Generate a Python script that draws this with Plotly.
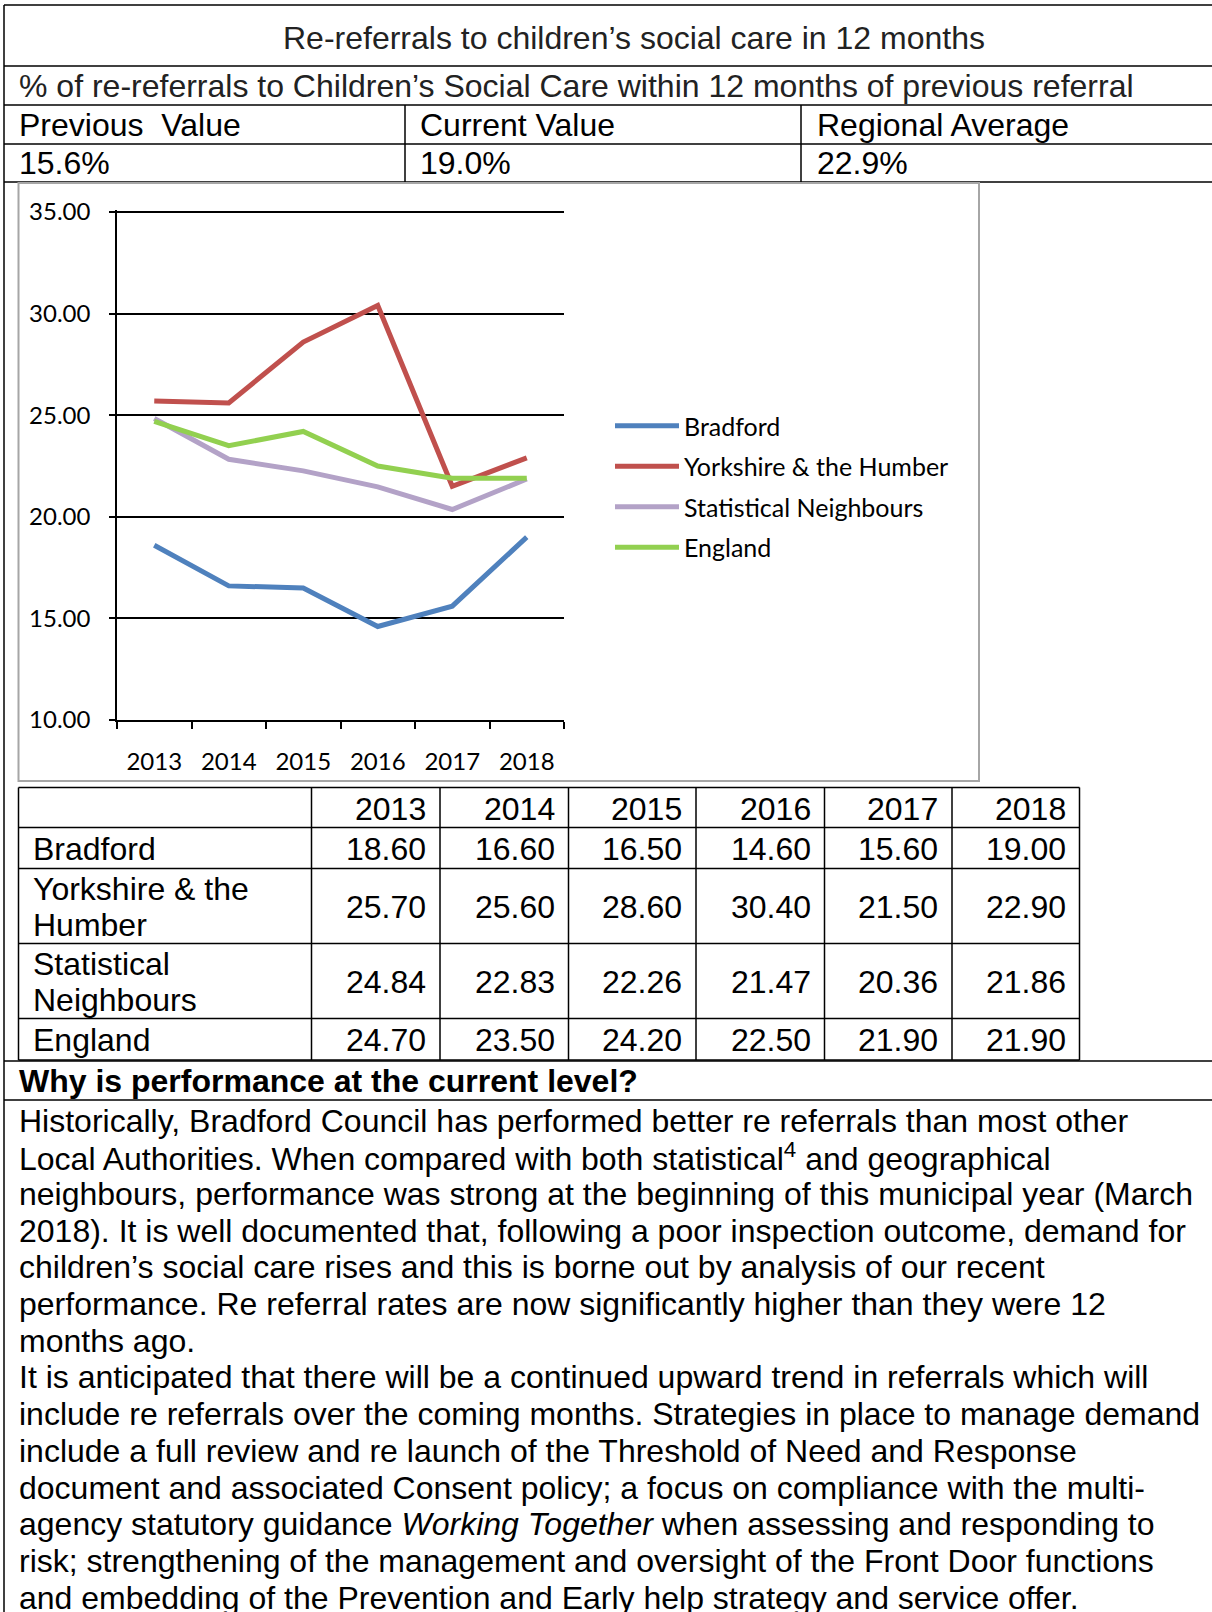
import plotly.graph_objects as go

W, H = 1212, 1612

# ---------------- data ----------------
years = ["2013", "2014", "2015", "2016", "2017", "2018"]
series_names = ["Bradford", "Yorkshire & the Humber", "Statistical Neighbours", "England"]
bradford = [18.60, 16.60, 16.50, 14.60, 15.60, 19.00]
yorkshire = [25.70, 25.60, 28.60, 30.40, 21.50, 22.90]
stat_neighbours = [24.84, 22.83, 22.26, 21.47, 20.36, 21.86]
england = [24.70, 23.50, 24.20, 22.50, 21.90, 21.90]
series_colors = ["#4F81BD", "#C0504D", "#B3A2C7", "#92D050"]
table_row_labels = [["Bradford"], ["Yorkshire & the", "Humber"], ["Statistical", "Neighbours"], ["England"]]
y_ticks = [10, 15, 20, 25, 30, 35]

title_text = "Re-referrals to children’s social care in 12 months"
subtitle_text = "% of re-referrals to Children’s Social Care within 12 months of previous referral"
kpi_labels = ["Previous  Value", "Current Value", "Regional Average"]
kpi_values = ["15.6%", "19.0%", "22.9%"]
heading_text = "Why is performance at the current level?"
body_lines = [
    "Historically, Bradford Council has performed better re referrals than most other",
    "Local Authorities. When compared with both statistical<sup>4</sup> and geographical",
    "neighbours, performance was strong at the beginning of this municipal year (March",
    "2018). It is well documented that, following a poor inspection outcome, demand for",
    "children’s social care rises and this is borne out by analysis of our recent",
    "performance. Re referral rates are now significantly higher than they were 12",
    "months ago.",
    "It is anticipated that there will be a continued upward trend in referrals which will",
    "include re referrals over the coming months. Strategies in place to manage demand",
    "include a full review and re launch of the Threshold of Need and Response",
    "document and associated Consent policy; a focus on compliance with the multi-",
    "agency statutory guidance <i>Working Together</i> when assessing and responding to",
    "risk; strengthening of the management and oversight of the Front Door functions",
    "and embedding of the Prevention and Early help strategy and service offer.",
]
series_values = [bradford, yorkshire, stat_neighbours, england]

# ---------------- helpers ----------------
def px(x):
    return x / W

def py(y):
    return 1 - y / H

DOC_FONT = "Liberation Sans, Arial, sans-serif"
CHART_FONT = "Lato, Carlito, Calibri, sans-serif"
FS = 32

shapes = []
annotations = []

def hline(y, x0, x1, color="black", width=1.5):
    shapes.append(dict(type="line", xref="paper", yref="paper", x0=px(x0), x1=px(x1),
                       y0=py(y), y1=py(y), line=dict(color=color, width=width)))

def vline(x, y0, y1, color="black", width=1.5):
    shapes.append(dict(type="line", xref="paper", yref="paper", x0=px(x), x1=px(x),
                       y0=py(y0), y1=py(y1), line=dict(color=color, width=width)))

def text(x, y, s, anchor="left", size=FS, color="#1a1a1a", family=DOC_FONT):
    annotations.append(dict(xref="paper", yref="paper", x=px(x), y=py(y), text=s,
                            showarrow=False, xanchor=anchor, yanchor="middle",
                            font=dict(family=family, size=size, color=color)))

# ---------------- header table ----------------
hline(5, 4, W)
hline(66, 4, W)
hline(105, 4, W)
hline(144, 4, W)
hline(182, 4, W)
vline(4, 5, H)
vline(405, 105, 182)
vline(801, 105, 182)
text(634, 38, title_text, anchor="center", color="#222222")
text(17, 86, subtitle_text, color="#222222")
kpi_x = [17, 418, 815]
for xx, lab, val in zip(kpi_x, kpi_labels, kpi_values):
    text(xx, 125, lab, color="#000000")
    text(xx, 163, val, color="#000000")

# chart frame
shapes.append(dict(type="rect", xref="paper", yref="paper", x0=px(18.5), x1=px(979),
                   y0=py(781), y1=py(183), line=dict(color="#A6A6A6", width=2)))

# ---------------- data table ----------------
col_edges = [18.5, 311.5, 440, 568.5, 696, 824.5, 952, 1079.5]
row_edges = [787.5, 827.5, 868.5, 943.5, 1018.5, 1060]
for xe in col_edges:
    vline(xe, row_edges[0], row_edges[-1])
for ye in row_edges:
    hline(ye, col_edges[0], col_edges[-1])
for j, yr in enumerate(years):
    text(col_edges[j + 2] - 12, (row_edges[0] + row_edges[1]) / 2 + 1, yr, anchor="right", color="#000000")
for i, (labs, vals) in enumerate(zip(table_row_labels, series_values)):
    top, bot = row_edges[i + 1], row_edges[i + 2]
    mid = (top + bot) / 2 + 1
    n = len(labs)
    for k, lab in enumerate(labs):
        text(31, mid + (k - (n - 1) / 2) * 36, lab, color="#000000")
    for j, v in enumerate(vals):
        text(col_edges[j + 2] - 12, mid, f"{v:.2f}", anchor="right", color="#000000")

# ---------------- commentary ----------------
hline(1061, 4, W)
hline(1100, 4, W)
text(17, 1081, "<b>" + heading_text + "</b>", color="#000000")
for k, line in enumerate(body_lines):
    text(17, 1120.5 + k * 36.7, line, color="#000000")

# ---------------- chart ----------------
Y0_PX, Y35_PX = 720, 212
px_per_unit = (Y0_PX - Y35_PX) / 25.0
y_top_val = 35.1
y_dom_top = Y35_PX - (y_top_val - 35) * px_per_unit

fig = go.Figure()
for name, vals, col in zip(series_names, series_values, series_colors):
    fig.add_trace(go.Scatter(x=years, y=vals, name=name, mode="lines", legendgroup=name,
                             line=dict(color=col, width=5)))

fig.update_layout(
    width=W, height=H, autosize=False,
    margin=dict(l=0, r=0, t=0, b=0, pad=0, autoexpand=False),
    paper_bgcolor="white", plot_bgcolor="white",
    shapes=shapes, annotations=annotations,
    showlegend=True,
    legend=dict(x=px(610), y=py(403), xanchor="left", yanchor="top",
                bgcolor="rgba(0,0,0,0)", borderwidth=0,
                font=dict(family=CHART_FONT, size=25, color="#000000"),
                itemwidth=64, tracegroupgap=5, traceorder="grouped"),
    xaxis=dict(domain=[px(117), px(564)], type="category", automargin=False,
               range=[-0.5, len(years) - 0.5],
               showline=True, linecolor="black", linewidth=1.5,
               ticks="outside", tickson="boundaries", ticklen=7, tickwidth=1.5, tickcolor="black",
               showgrid=False, zeroline=False,
               tickfont=dict(family=CHART_FONT, size=24, color="#000000"),
               ticklabelstandoff=19),
    yaxis=dict(domain=[py(Y0_PX), py(y_dom_top)], range=[10, y_top_val], automargin=False,
               tickvals=y_ticks, tickformat=".2f",
               showline=True, linecolor="black", linewidth=1.5,
               ticks="outside", ticklen=6, tickwidth=1.5, tickcolor="black",
               showgrid=True, gridcolor="black", gridwidth=1.5, zeroline=False,
               tickfont=dict(family=CHART_FONT, size=24, color="#000000"),
               ticklabelstandoff=14),
)

fig.write_html("out.html", config={"displayModeBar": False},
               post_script="document.body.style.margin='0';")
